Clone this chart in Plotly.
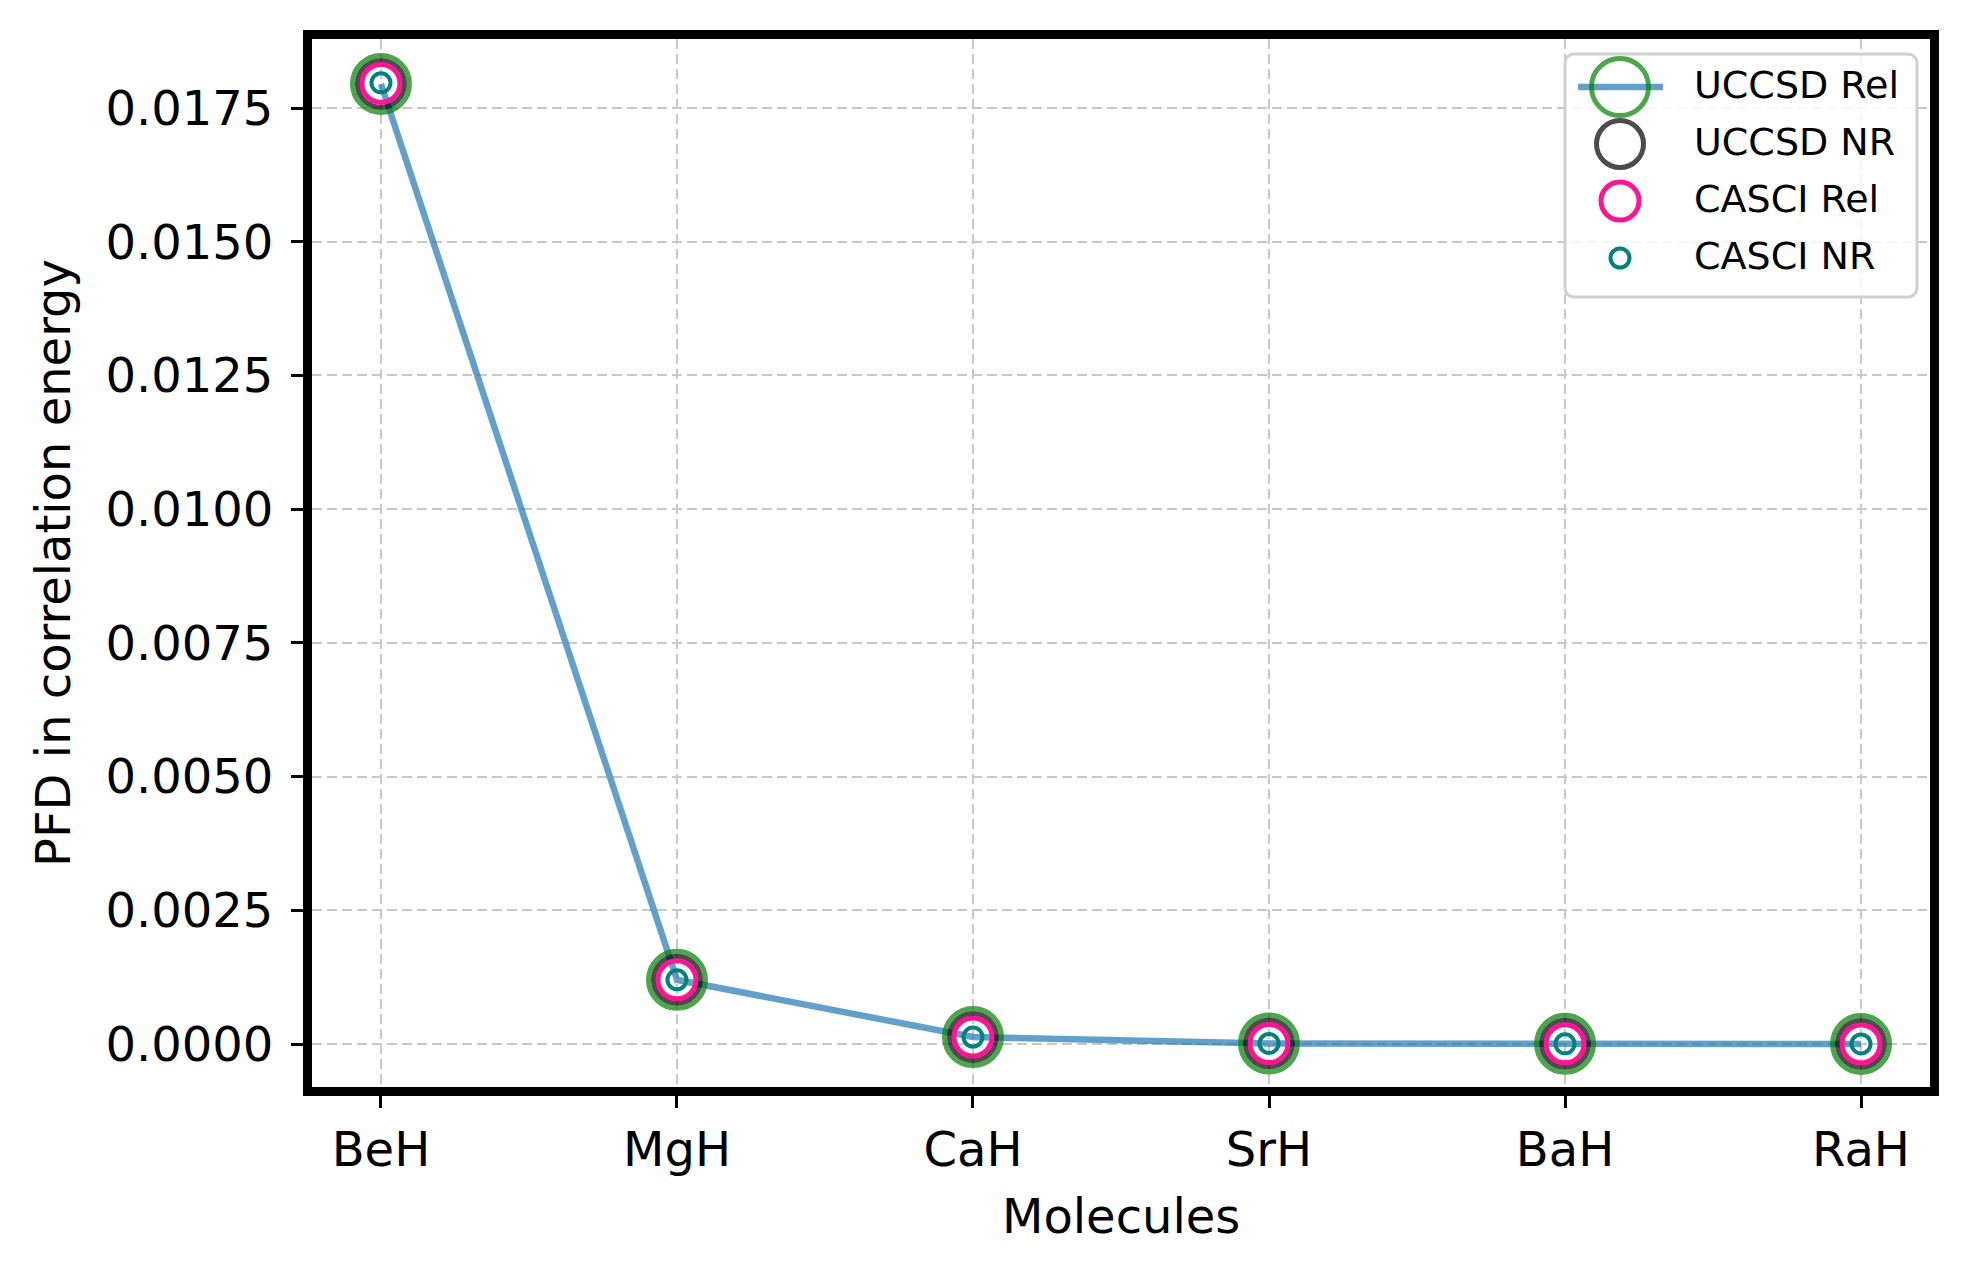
import numpy as np
import plotly.graph_objects as go

# molecules on the x axis
molecules = ["BeH", "MgH", "CaH", "SrH", "BaH", "RaH"]

# PFD in correlation energy
uccsd_rel = [0.01795, 0.00120, 0.00013, 0.00001, 0.000003, 0.000001]
uccsd_nr = [0.01795, 0.00120, 0.00013, 0.00001, 0.000003, 0.000001]
casci_rel = [0.01796, 0.00120, 0.00013, 0.00001, 0.000003, 0.000001]
casci_nr = [0.01797, 0.00120, 0.00013, 0.00001, 0.000003, 0.000001]

series_names = ["UCCSD Rel", "UCCSD NR", "CASCI Rel", "CASCI NR"]

FONT = "DejaVu Sans"
# the page body adds 8px of margin, so the figure is 8px smaller
W, H = 1961, 1268
L, R, T, B = 304, 39, 31, 189   # plot area = inner edge of the frame

blue = "rgba(31,119,180,0.7)"
green = "rgba(0,128,0,0.7)"
grey = "rgba(0,0,0,0.7)"
pink = "#ff1493"
teal = "#008080"
clear = "rgba(0,0,0,0)"

# (edge colour, marker size, edge width)
styles = [
    (green, 57, 5),
    (grey, 47, 5),
    (pink, 38, 5),
    (teal, 19, 4),
]

fig = go.Figure()

# main series
fig.add_trace(go.Scatter(
    x=molecules, y=uccsd_rel, mode="lines+markers", name=series_names[0],
    line=dict(color=blue, width=6.5),
    marker=dict(symbol="circle", size=styles[0][1], color=clear,
                line=dict(color=styles[0][0], width=styles[0][2])),
    showlegend=False,
))
for vals, name, st in zip([uccsd_nr, casci_rel, casci_nr], series_names[1:], styles[1:]):
    fig.add_trace(go.Scatter(
        x=molecules, y=vals, mode="markers", name=name,
        marker=dict(symbol="circle", size=st[1], color=clear,
                    line=dict(color=st[0], width=st[2])),
        showlegend=False,
    ))

# ---- hand-made legend (plotly caps legend symbol sizes) ----
# overlay axes measured in pixels of the figure
bx0, bx1, by0, by1, rad = 1557, 1909, 46, 289, 9
t = np.linspace(0, np.pi / 2, 8)
corners = [
    (bx1 - rad, by0 + rad, -np.pi / 2),
    (bx1 - rad, by1 - rad, 0),
    (bx0 + rad, by1 - rad, np.pi / 2),
    (bx0 + rad, by0 + rad, np.pi),
]
px, py = [], []
for cx, cy, a0 in corners:
    px += list(cx + rad * np.cos(a0 + t))
    py += list(cy + rad * np.sin(a0 + t))
px.append(px[0])
py.append(py[0])
fig.add_trace(go.Scatter(
    x=px, y=py, xaxis="x2", yaxis="y2", mode="lines", fill="toself",
    fillcolor="rgba(255,255,255,0.85)", line=dict(color="#d0d0d0", width=3),
    hoverinfo="skip", showlegend=False,
))

rows = [79, 136, 193, 250]
mx = 1612
fig.add_trace(go.Scatter(
    x=[1570, 1655], y=[rows[0], rows[0]], xaxis="x2", yaxis="y2", mode="lines",
    line=dict(color=blue, width=6.5), hoverinfo="skip", showlegend=False,
))
for ry, name, st in zip(rows, series_names, styles):
    fig.add_trace(go.Scatter(
        x=[mx], y=[ry], xaxis="x2", yaxis="y2", mode="markers",
        marker=dict(symbol="circle", size=st[1], color=clear,
                    line=dict(color=st[0], width=st[2])),
        hoverinfo="skip", showlegend=False,
    ))
    fig.add_annotation(
        x=1684, y=ry, xref="x2", yref="y2", text=name, showarrow=False,
        xanchor="left", yanchor="middle", yshift=2,
        font=dict(family=FONT, size=38, color="black"),
    )

# axis titles
fig.add_annotation(
    x=0.5, y=-0.1231, xref="paper", yref="paper", text="Molecules",
    showarrow=False, xanchor="center", yanchor="middle",
    font=dict(family=FONT, size=48, color="black"),
)
fig.add_annotation(
    x=-0.1601, y=0.5, xref="paper", yref="paper", text="PFD in correlation energy",
    showarrow=False, textangle=-90, xanchor="center", yanchor="middle",
    font=dict(family=FONT, size=48, color="black"),
)

axis_common = dict(
    showline=True, linewidth=9, linecolor="black", mirror=True,
    ticks="outside", ticklen=12, tickwidth=3, tickcolor="black",
    showgrid=True, gridcolor="#c8c8c8", gridwidth=2, griddash="10px,5px",
    zeroline=False,
    tickfont=dict(family=FONT, size=48, color="black"),
)

fig.update_layout(
    width=W, height=H,
    margin=dict(l=L, r=R, t=T, b=B),
    paper_bgcolor="white", plot_bgcolor="white",
    font=dict(family=FONT, color="black"),
    showlegend=False,
    xaxis=dict(axis_common, type="category", range=[-0.233, 5.233]),
    yaxis=dict(axis_common, range=[-0.000804, 0.01879], tickmode="linear",
               tick0=0, dtick=0.0025, tickformat=".4f", ticklabelstandoff=8),
    xaxis2=dict(overlaying="x", anchor="y2", range=[L, W - R], visible=False),
    yaxis2=dict(overlaying="y", anchor="x2", range=[H - B, T], visible=False),
)

fig.write_html("out.html")
